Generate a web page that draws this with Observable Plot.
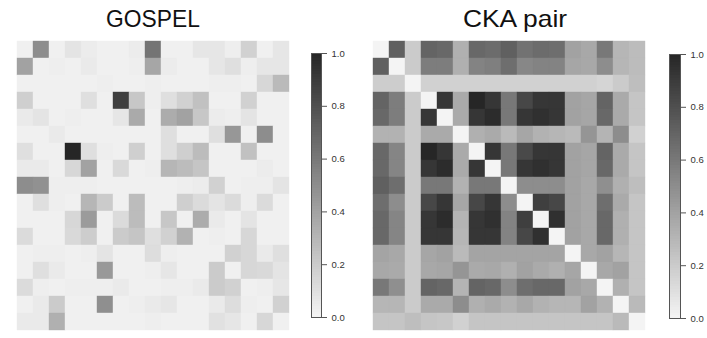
<!DOCTYPE html>
<html><head><meta charset="utf-8">
<script src="https://cdn.jsdelivr.net/npm/d3@7"></script>
<script src="https://cdn.jsdelivr.net/npm/@observablehq/plot@0.6"></script>
<style>
body{margin:0;background:#fff;}
#wrap{position:relative;width:707px;height:338px;overflow:hidden;font-family:"Liberation Sans",Arial,sans-serif;background:#fff;}
.t{position:absolute;top:7px;font-size:24px;color:#111;white-space:nowrap;line-height:1;}
.p{position:absolute;}
.p svg{display:block;max-width:none !important;}
</style></head><body><div id="wrap"></div>
<script>
// Titles
const titles = ["GOSPEL", "CKA pair"];
// Colorbar tick labels
const tickValues = [0, 0.2, 0.4, 0.6, 0.8, 1.0];
// Colour ramp ends (value 0 -> light, value 1 -> dark)
const rampColors = ["#f4f4f4", "#262626"];

// GOSPEL matrix (17 x 17), row by row
const gospel = [
  [0.02,0.50,0.02,0.08,0.04,0.02,0.02,0.04,0.62,0.02,0.02,0.07,0.07,0.03,0.17,0.02,0.07],
  [0.40,0.02,0.03,0.02,0.05,0.02,0.02,0.03,0.38,0.04,0.02,0.02,0.07,0.10,0.03,0.07,0.07],
  [0.02,0.02,0.02,0.02,0.02,0.03,0.02,0.02,0.03,0.02,0.02,0.02,0.03,0.03,0.02,0.14,0.28],
  [0.18,0.02,0.02,0.02,0.10,0.02,0.88,0.22,0.03,0.10,0.17,0.25,0.02,0.02,0.17,0.02,0.02],
  [0.05,0.08,0.02,0.03,0.02,0.02,0.07,0.36,0.02,0.35,0.40,0.22,0.04,0.03,0.08,0.02,0.02],
  [0.02,0.02,0.05,0.02,0.02,0.02,0.02,0.02,0.02,0.10,0.02,0.02,0.10,0.45,0.02,0.50,0.02],
  [0.10,0.02,0.02,1.00,0.10,0.03,0.02,0.18,0.02,0.10,0.18,0.27,0.02,0.02,0.25,0.02,0.02],
  [0.05,0.05,0.02,0.14,0.40,0.02,0.13,0.02,0.03,0.30,0.27,0.23,0.02,0.02,0.02,0.04,0.02],
  [0.50,0.48,0.03,0.03,0.03,0.02,0.02,0.02,0.02,0.02,0.03,0.04,0.17,0.02,0.03,0.03,0.08],
  [0.02,0.10,0.03,0.02,0.30,0.20,0.02,0.27,0.02,0.02,0.18,0.12,0.08,0.12,0.03,0.12,0.02],
  [0.02,0.02,0.02,0.14,0.43,0.02,0.12,0.27,0.02,0.22,0.02,0.35,0.05,0.02,0.08,0.02,0.02],
  [0.12,0.02,0.02,0.13,0.19,0.02,0.20,0.23,0.10,0.17,0.32,0.02,0.03,0.02,0.14,0.02,0.02],
  [0.02,0.03,0.03,0.02,0.03,0.08,0.02,0.02,0.11,0.03,0.02,0.02,0.02,0.17,0.14,0.05,0.10],
  [0.02,0.10,0.05,0.02,0.02,0.44,0.02,0.02,0.03,0.07,0.02,0.02,0.20,0.02,0.14,0.13,0.08],
  [0.12,0.03,0.02,0.03,0.03,0.03,0.05,0.02,0.02,0.03,0.03,0.05,0.20,0.17,0.02,0.03,0.07],
  [0.02,0.05,0.20,0.02,0.02,0.49,0.02,0.03,0.05,0.07,0.02,0.02,0.05,0.11,0.03,0.02,0.17],
  [0.05,0.05,0.33,0.02,0.02,0.02,0.02,0.02,0.03,0.02,0.02,0.02,0.09,0.07,0.02,0.14,0.02]
];

// CKA pair matrix (17 x 17), row by row
const ckaPair = [
  [0.00,0.72,0.20,0.70,0.68,0.33,0.68,0.66,0.72,0.63,0.66,0.65,0.40,0.37,0.60,0.30,0.27],
  [0.72,0.00,0.20,0.58,0.58,0.33,0.55,0.57,0.65,0.53,0.55,0.55,0.38,0.37,0.50,0.30,0.27],
  [0.19,0.19,0.00,0.17,0.17,0.17,0.17,0.17,0.17,0.17,0.17,0.17,0.17,0.17,0.15,0.20,0.26],
  [0.70,0.58,0.20,0.00,0.92,0.36,1.00,0.92,0.60,0.84,0.92,0.92,0.40,0.38,0.70,0.36,0.23],
  [0.68,0.58,0.20,0.92,0.00,0.36,0.92,0.97,0.60,0.92,0.95,0.92,0.40,0.38,0.68,0.36,0.23],
  [0.32,0.32,0.20,0.36,0.36,0.00,0.33,0.36,0.28,0.38,0.32,0.30,0.28,0.46,0.31,0.50,0.17],
  [0.68,0.54,0.20,1.00,0.92,0.36,0.00,0.92,0.60,0.83,0.92,0.92,0.40,0.38,0.70,0.36,0.23],
  [0.68,0.54,0.20,0.92,0.97,0.36,0.92,0.00,0.60,0.92,0.95,0.92,0.40,0.38,0.68,0.36,0.23],
  [0.72,0.65,0.20,0.60,0.60,0.32,0.60,0.60,0.00,0.50,0.50,0.50,0.40,0.37,0.49,0.33,0.26],
  [0.65,0.50,0.20,0.84,0.92,0.38,0.84,0.92,0.50,0.00,0.88,0.84,0.40,0.37,0.65,0.36,0.23],
  [0.68,0.54,0.20,0.92,0.97,0.31,0.92,0.95,0.55,0.88,0.00,0.95,0.40,0.37,0.68,0.33,0.23],
  [0.68,0.54,0.20,0.92,0.92,0.30,0.92,0.92,0.55,0.84,0.95,0.00,0.40,0.37,0.68,0.33,0.23],
  [0.39,0.37,0.20,0.38,0.40,0.28,0.39,0.39,0.39,0.39,0.39,0.39,0.00,0.37,0.40,0.30,0.23],
  [0.37,0.36,0.20,0.37,0.38,0.46,0.36,0.37,0.33,0.40,0.36,0.33,0.38,0.00,0.37,0.40,0.23],
  [0.60,0.49,0.20,0.70,0.68,0.31,0.70,0.68,0.50,0.65,0.68,0.68,0.40,0.37,0.00,0.33,0.23],
  [0.30,0.30,0.20,0.36,0.36,0.50,0.33,0.36,0.32,0.37,0.32,0.30,0.30,0.40,0.32,0.00,0.28],
  [0.23,0.23,0.26,0.23,0.22,0.17,0.23,0.23,0.23,0.23,0.23,0.23,0.23,0.23,0.23,0.28,0.00]
];

const wrap = document.getElementById("wrap");
const colorOpts = {type: "linear", domain: [0, 1], range: rampColors, interpolate: "rgb"};

function place(node, left, top, w) {
  const d = document.createElement("div");
  d.className = "p";
  d.style.left = left + "px";
  d.style.top = top + "px";
  d.style.width = w + "px";
  d.appendChild(node);
  wrap.appendChild(d);
}

function heat(matrix, w, h) {
  const n = matrix.length;
  const data = matrix.flatMap((row, r) => row.map((v, c) => ({r, c, v})));
  return Plot.plot({
    width: w, height: h, margin: 0,
    style: {maxWidth: "none"},
    x: {axis: null, padding: 0, domain: d3.range(n)},
    y: {axis: null, padding: 0, domain: d3.range(n)},
    color: colorOpts,
    marks: [Plot.cell(data, {x: "c", y: "r", fill: "v", stroke: "v", strokeWidth: 0.4})]
  });
}

function colorbar(barW) {
  const step = 0.01;
  const steps = d3.range(0, 1, step);
  return Plot.plot({
    width: 11 + barW + 40, height: 284,
    marginLeft: 11, marginRight: 40, marginTop: 10, marginBottom: 10,
    style: {fontFamily: "'Liberation Sans', Arial, sans-serif", background: "transparent", maxWidth: "none", color: "#333"},
    x: {axis: null, domain: [0, 1]},
    y: {domain: [0, 1], axis: null},
    color: colorOpts,
    marks: [
      Plot.rect(steps, {x1: 0, x2: 1, y1: d => d, y2: d => Math.min(1, d + step * 1.8), fill: d => d + step / 2, shapeRendering: "crispEdges"}),
      Plot.frame({stroke: "#555", strokeWidth: 1}),
      Plot.axisY({anchor: "right", ticks: tickValues, tickFormat: d3.format(".1f"), tickSize: 5, tickPadding: 5, fontSize: 9.5, stroke: "#555", fill: "#333"})
    ]
  });
}

place(heat(gospel, 281, 294), 12, 38, 281);
place(heat(ckaPair, 280, 293), 369, 39, 280);
place(colorbar(10), 300, 43, 61);
place(colorbar(11), 658, 44, 62);

function title(text, cx, sx) {
  const d = document.createElement("div");
  d.className = "t";
  d.textContent = text;
  d.style.left = cx + "px";
  d.style.transform = `translateX(-50%) scaleX(${sx})`;
  wrap.appendChild(d);
}
title(titles[0], 153, 0.95);
title(titles[1], 515, 1.1);
</script>
</body></html>
